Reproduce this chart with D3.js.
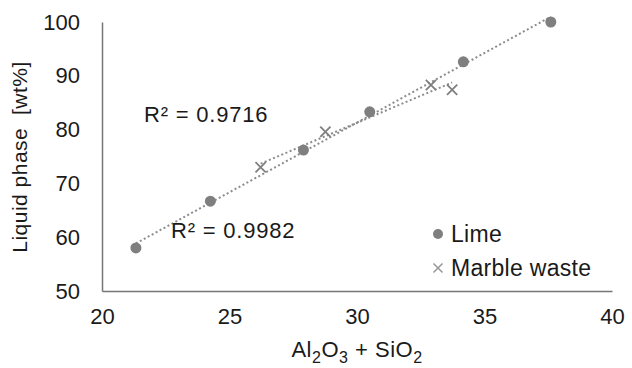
<!DOCTYPE html>
<html>
<head>
<meta charset="utf-8">
<script src="https://cdn.jsdelivr.net/npm/d3@7"></script>
<style>
  body { margin: 0; background: #fff; }
  text { font-family: "Liberation Sans", Arial, sans-serif; fill: #1a1a1a; }
</style>
</head>
<body>
<script>
// data
var limeX = [21.33, 24.25, 27.9, 30.5, 34.17, 37.6];
var limeY = [58.0, 66.7, 76.2, 83.3, 92.6, 100.0];
var marbleX = [26.22, 28.76, 32.9, 33.73];
var marbleY = [73.0, 79.6, 88.3, 87.4];
var xTicks = [20, 25, 30, 35, 40];
var yTicks = [50, 60, 70, 80, 90, 100];
var seriesNames = ["Lime", "Marble waste"];
var r2Labels = ["R\u00b2 = 0.9982", "R\u00b2 = 0.9716"];

var w = 632, h = 368;
var grey = "#7f7f7f";

var svg = d3.select("body").append("svg")
    .attr("width", w)
    .attr("height", h);

var x = d3.scaleLinear().domain([20, 40]).range([102, 612]);
var y = d3.scaleLinear().domain([50, 100]).range([291, 22]);

// axes (left + bottom lines only, no tick marks)
var xAxis = svg.append("g")
    .attr("transform", "translate(0," + y(50) + ")")
    .call(d3.axisBottom(x).tickValues(xTicks).tickSize(0).tickPadding(18));
var yAxis = svg.append("g")
    .attr("transform", "translate(" + x(20) + ",0)")
    .call(d3.axisLeft(y).tickValues(yTicks).tickSize(0).tickPadding(22));

[xAxis, yAxis].forEach(function (g) {
    g.select(".domain").attr("stroke", "#767676").attr("stroke-width", 1.5);
    g.selectAll("text")
        .style("font-family", "Liberation Sans, Arial, sans-serif")
        .style("font-size", "22px")
        .attr("fill", "#1a1a1a");
});
xAxis.selectAll("text").attr("dy", "0.68em");

// simple least squares fit for the trendlines
function fit(xs, ys) {
    var mx = d3.mean(xs), my = d3.mean(ys);
    var sxy = 0, sxx = 0;
    for (var i = 0; i < xs.length; i++) {
        sxy += (xs[i] - mx) * (ys[i] - my);
        sxx += (xs[i] - mx) * (xs[i] - mx);
    }
    var b = sxy / sxx;
    return { a: my - b * mx, b: b };
}

function trend(xs, ys) {
    var f = fit(xs, ys);
    var x0 = d3.min(xs), x1 = d3.max(xs);
    svg.append("line")
        .attr("x1", x(x0)).attr("y1", y(f.a + f.b * x0))
        .attr("x2", x(x1)).attr("y2", y(f.a + f.b * x1))
        .attr("stroke", "#8c8c8c")
        .attr("stroke-width", 2)
        .attr("stroke-dasharray", "2,2.5");
}

trend(limeX, limeY);
trend(marbleX, marbleY);

// lime points
svg.selectAll("circle.lime")
    .data(d3.zip(limeX, limeY))
    .enter()
    .append("circle")
    .attr("class", "lime")
    .attr("cx", function (d) { return x(d[0]); })
    .attr("cy", function (d) { return y(d[1]); })
    .attr("r", 5.5)
    .attr("fill", grey);

// marble waste crosses
var cross = d3.symbol().type(d3.symbolX).size(70);
svg.selectAll("path.marble")
    .data(d3.zip(marbleX, marbleY))
    .enter()
    .append("path")
    .attr("class", "marble")
    .attr("d", cross)
    .attr("transform", function (d) { return "translate(" + x(d[0]) + "," + y(d[1]) + ")"; })
    .attr("fill", "none")
    .attr("stroke", grey)
    .attr("stroke-width", 1.8);

// R² labels
svg.append("text").attr("x", 171).attr("y", 238)
    .style("font-size", "22px").style("letter-spacing", "0.8px").text(r2Labels[0]);
svg.append("text").attr("x", 144).attr("y", 122)
    .style("font-size", "22px").style("letter-spacing", "0.8px").text(r2Labels[1]);

// legend
var leg = svg.append("g");
leg.append("circle").attr("cx", 438).attr("cy", 234).attr("r", 5).attr("fill", grey);
leg.append("path").attr("d", d3.symbol().type(d3.symbolX).size(55))
    .attr("transform", "translate(438,268)")
    .attr("fill", "none").attr("stroke", "#9a9a9a").attr("stroke-width", 1.6);
leg.selectAll("text")
    .data(seriesNames)
    .enter()
    .append("text")
    .attr("x", 451)
    .attr("y", function (d, i) { return 234 + i * 34; })
    .attr("dy", "0.36em")
    .style("font-size", "23px")
    .style("letter-spacing", "0.3px")
    .text(function (d) { return d; });

// axis titles
var xt = svg.append("text")
    .attr("x", x(30))
    .attr("y", 357)
    .attr("text-anchor", "middle")
    .style("font-size", "22px")
    .style("letter-spacing", "0.5px");
xt.append("tspan").text("Al");
xt.append("tspan").attr("dy", 6).style("font-size", "16px").text("2");
xt.append("tspan").attr("dy", -6).text("O");
xt.append("tspan").attr("dy", 6).style("font-size", "16px").text("3");
xt.append("tspan").attr("dy", -6).text(" + SiO");
xt.append("tspan").attr("dy", 6).style("font-size", "16px").text("2");

svg.append("text")
    .attr("transform", "translate(27,157) rotate(-90)")
    .attr("text-anchor", "middle")
    .style("font-size", "21px")
    .style("letter-spacing", "0.5px")
    .style("white-space", "pre")
    .text("Liquid phase  [wt%]");
</script>
</body>
</html>
